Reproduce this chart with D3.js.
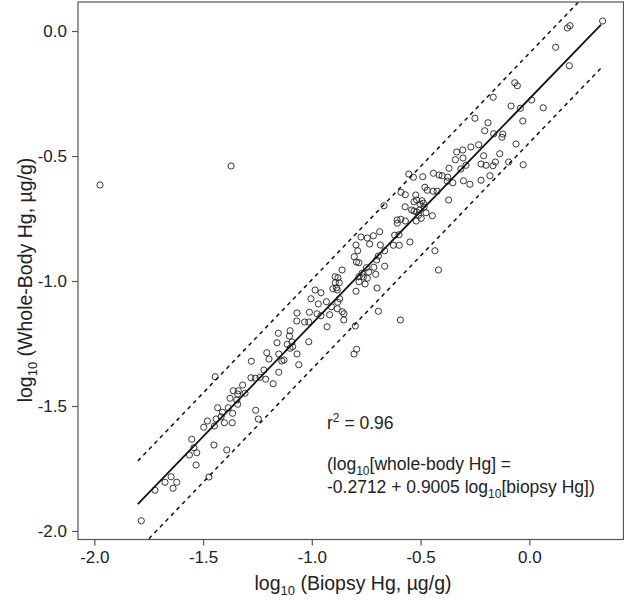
<!DOCTYPE html>
<html lang="en">
<head>
    <meta charset="UTF-8">
    <title>Biopsy vs Whole-Body Hg</title>
    <script src="https://d3js.org/d3.v7.min.js"></script>
    <style>
        body { margin: 0; background: #fff; }
        svg { display: block; font-family: "Liberation Sans", Arial, sans-serif; }
        text { fill: #222; }
    </style>
</head>
<body>
<svg width="624" height="600"></svg>
<script>
// log10 biopsy Hg (x) and log10 whole-body Hg (y)
let biopsy = [
  0.337, 0.187, 0.175, 0.121, 0.184, -0.067, -0.055, -0.166, 0.011, -0.084,
  -0.041, 0.064, -0.250, -0.030, -0.190, -0.205, -0.164, -0.122, -0.126, -0.233,
  -0.269, -0.306, -0.334, -0.061, -0.305, -0.340, -0.210, -0.136, -0.291, -0.222,
  -0.199, -0.167, -0.156, -0.095, -0.028, -0.315, -0.369, -0.554, -0.533, -0.490,
  -0.441, -0.415, -0.401, -0.375, -0.352, -0.377, -0.303, -0.273, -0.222, -0.181,
  -0.590, -0.570, -0.522, -0.493, -0.480, -0.469, -0.442, -0.424, -0.371, -0.668,
  -0.571, -0.530, -0.518, -0.501, -0.487, -0.541, -0.530, -0.518, -0.504, -0.484,
  -0.475, -0.509, -0.497, -0.446, -0.608, -0.591, -0.570, -0.520, -0.607, -0.688,
  -0.619, -0.599, -0.774, -0.745, -0.717, -0.734, -0.797, -0.685, -0.625, -0.598,
  -0.549, -0.789, -0.665, -0.434, -0.805, -0.795, -0.694, -0.702, -0.784, -0.749,
  -0.769, -0.738, -0.715, -0.665, -0.418, -0.861, -0.893, -0.880, -0.892, -0.874,
  -0.887, -0.883, -0.903, -0.783, -0.763, -0.745, -0.706, -0.783, -0.755, -0.700,
  -0.797, -0.985, -0.958, -1.004, -0.970, -0.933, -0.872, -0.881, -0.910, -0.883,
  -0.860, -0.852, -1.068, -1.011, -0.976, -0.958, -0.918, -0.853, -0.694, -0.593,
  -1.069, -1.033, -1.014, -0.930, -0.800, -1.154, -1.100, -1.103, -1.160, -1.113,
  -1.091, -1.088, -1.014, -1.100, -0.794, -0.806, -1.207, -1.197, -1.152, -1.138,
  -1.128, -1.068, -1.060, -1.278, -1.220, -1.212, -1.152, -1.178, -1.280, -1.260,
  -1.238, -1.444, -1.318, -1.361, -1.338, -1.341, -1.307, -1.376, -1.345, -1.341,
  -1.433, -1.411, -1.384, -1.417, -1.440, -1.402, -1.366, -1.364, -1.480, -1.497,
  -1.448, -1.258, -1.246, -1.552, -1.542, -1.529, -1.563, -1.532, -1.450, -1.391,
  -1.473, -1.647, -1.621, -1.675, -1.638, -1.721, -1.784, -1.974, -1.371
];
let wholeBody = [
  0.040, 0.021, 0.012, -0.065, -0.139, -0.207, -0.219, -0.265, -0.276, -0.300,
  -0.309, -0.307, -0.349, -0.360, -0.367, -0.399, -0.411, -0.412, -0.425, -0.455,
  -0.464, -0.476, -0.484, -0.452, -0.508, -0.515, -0.499, -0.491, -0.537, -0.532,
  -0.537, -0.539, -0.524, -0.524, -0.535, -0.552, -0.549, -0.572, -0.585, -0.583,
  -0.569, -0.576, -0.579, -0.585, -0.607, -0.601, -0.599, -0.613, -0.597, -0.579,
  -0.645, -0.655, -0.656, -0.679, -0.625, -0.637, -0.641, -0.641, -0.676, -0.699,
  -0.703, -0.683, -0.676, -0.693, -0.689, -0.716, -0.720, -0.724, -0.716, -0.705,
  -0.727, -0.737, -0.749, -0.739, -0.756, -0.753, -0.760, -0.760, -0.769, -0.803,
  -0.817, -0.815, -0.824, -0.828, -0.819, -0.852, -0.856, -0.856, -0.857, -0.857,
  -0.844, -0.879, -0.879, -0.879, -0.903, -0.924, -0.900, -0.916, -0.927, -0.947,
  -0.969, -0.964, -0.945, -0.941, -0.956, -0.956, -0.983, -0.987, -1.007, -1.007,
  -1.027, -1.036, -1.031, -0.983, -0.984, -0.989, -0.973, -1.003, -1.012, -1.028,
  -1.041, -1.036, -1.047, -1.071, -1.092, -1.083, -1.071, -1.085, -1.103, -1.111,
  -1.123, -1.131, -1.128, -1.125, -1.131, -1.139, -1.135, -1.156, -1.121, -1.156,
  -1.160, -1.164, -1.164, -1.183, -1.180, -1.209, -1.199, -1.220, -1.247, -1.253,
  -1.244, -1.263, -1.243, -1.269, -1.273, -1.292, -1.287, -1.312, -1.292, -1.320,
  -1.316, -1.292, -1.335, -1.321, -1.356, -1.393, -1.365, -1.411, -1.387, -1.389,
  -1.385, -1.383, -1.416, -1.439, -1.439, -1.452, -1.449, -1.469, -1.476, -1.493,
  -1.507, -1.525, -1.507, -1.543, -1.552, -1.567, -1.567, -1.529, -1.560, -1.585,
  -1.580, -1.517, -1.552, -1.633, -1.667, -1.687, -1.696, -1.736, -1.656, -1.676,
  -1.784, -1.783, -1.805, -1.805, -1.829, -1.837, -1.959, -0.616, -0.540
];

// fitted line and prediction band end points
let fitX = [-1.80, 0.33];
let intercept = -0.2712, slope = 0.9005;
let upperBand = [-1.72, 0.21];
let lowerBand = [-2.077, -0.148];

let xTicks = [-2.0, -1.5, -1.0, -0.5, 0.0];
let yTicks = [0.0, -0.5, -1.0, -1.5, -2.0];

let svg = d3.select('svg');
let box = {left: 78, right: 623.5, top: 2, bottom: 539.5};

let xscale = d3.scaleLinear().domain([-2.075, 0.433]).range([box.left, box.right]);
let yscale = d3.scaleLinear().domain([-2.034, 0.116]).range([box.bottom, box.top]);

svg.append('clipPath').attr('id', 'plotclip')
   .append('rect')
   .attr('x', box.left).attr('y', box.top)
   .attr('width', box.right - box.left).attr('height', box.bottom - box.top);

let plot = svg.append('g').attr('clip-path', 'url(#plotclip)');

// points
let pts = biopsy.map(function (d, i) { return {x: d, y: wholeBody[i]}; });
plot.selectAll('circle').data(pts).enter().append('circle')
    .attr('cx', function (d) { return xscale(d.x); })
    .attr('cy', function (d) { return yscale(d.y); })
    .attr('r', 3.1)
    .style('fill', 'none')
    .style('stroke', '#222')
    .style('stroke-width', 0.9);

// regression line
let line = d3.line().x(function (d) { return xscale(d[0]); }).y(function (d) { return yscale(d[1]); });
let fitPts = fitX.map(function (x) { return [x, intercept + slope * x]; });
plot.append('path').attr('d', line(fitPts))
    .style('fill', 'none').style('stroke', '#111').style('stroke-width', 1.8);

// dashed bands
[upperBand, lowerBand].forEach(function (band) {
    plot.append('path').attr('d', line(fitX.map(function (x, i) { return [x, band[i]]; })))
        .style('fill', 'none').style('stroke', '#111')
        .style('stroke-width', 1.5).style('stroke-dasharray', '4,4');
});

// frame
svg.append('rect')
   .attr('x', box.left).attr('y', box.top)
   .attr('width', box.right - box.left).attr('height', box.bottom - box.top)
   .style('fill', 'none').style('stroke', '#555').style('stroke-width', 1.2);

// axes
let xAxis = svg.append('g')
    .attr('transform', 'translate(0,' + box.bottom + ')')
    .call(d3.axisBottom(xscale).tickValues(xTicks).tickSizeOuter(0).tickSize(6).tickPadding(5));
let yAxis = svg.append('g')
    .attr('transform', 'translate(' + box.left + ',0)')
    .call(d3.axisLeft(yscale).tickValues(yTicks).tickSizeOuter(0).tickSize(6).tickPadding(5));
[xAxis, yAxis].forEach(function (ax) {
    ax.select('.domain').remove();
    ax.selectAll('line').style('stroke', '#555').style('stroke-width', 1.2);
    ax.selectAll('text').style('font-size', '17px').style('fill', '#222')
      .style('font-family', '"Liberation Sans", Arial, sans-serif')
      .text(function (d) { return d3.format('.1f')(d).replace('\u2212', '-'); });
});

// axis titles
function subTitle(g, pre, post) {
    g.append('tspan').text(pre);
    g.append('tspan').attr('dy', 5).style('font-size', '13px').text('10');
    g.append('tspan').attr('dy', -5).text(post);
}
let xt = svg.append('text').attr('x', 353).attr('y', 590)
    .attr('text-anchor', 'middle').style('font-size', '19.5px');
subTitle(xt, 'log', ' (Biopsy Hg, \u00b5g/g)');

let yt = svg.append('text').attr('transform', 'translate(32,280) rotate(-90)')
    .attr('text-anchor', 'middle').style('font-size', '19.5px');
subTitle(yt, 'log', ' (Whole-Body Hg, \u00b5g/g)');

// annotation
let r2 = svg.append('text').attr('x', 327).attr('y', 429).style('font-size', '17.5px');
r2.append('tspan').text('r');
r2.append('tspan').attr('dy', -7).style('font-size', '12px').text('2');
r2.append('tspan').attr('dy', 7).text(' = 0.96');

let eq1 = svg.append('text').attr('x', 327).attr('y', 470).style('font-size', '17.5px');
eq1.append('tspan').text('(log');
eq1.append('tspan').attr('dy', 5).style('font-size', '12px').text('10');
eq1.append('tspan').attr('dy', -5).text('[whole-body Hg] =');

let eq2 = svg.append('text').attr('x', 327).attr('y', 493).style('font-size', '17.5px');
eq2.append('tspan').text('-0.2712 + 0.9005 log');
eq2.append('tspan').attr('dy', 5).style('font-size', '12px').text('10');
eq2.append('tspan').attr('dy', -5).text('[biopsy Hg])');
</script>
</body>
</html>
